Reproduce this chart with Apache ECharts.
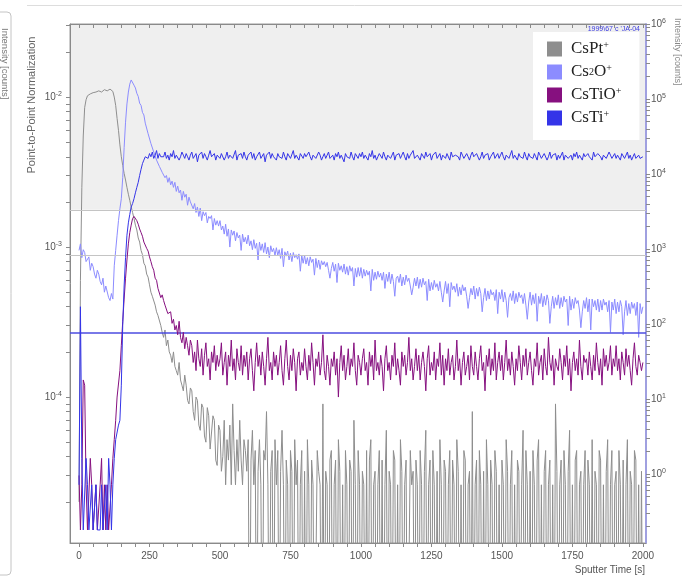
<!DOCTYPE html>
<html>
<head>
<meta charset="utf-8">
<script src="https://cdn.jsdelivr.net/npm/echarts@6/dist/echarts.min.js"></script>
<style>
  html, body { margin: 0; padding: 0; background: #fff; }
  #chart { width: 682px; height: 579px; }
</style>
</head>
<body>
<div id="chart"></div>
<script>
// Depth profile: sputter time [s] vs point-to-point normalised signal (log scale).
// One sample every 5 s from 0 s to 2000 s (401 samples per species, 20 per row).
const TIME_STEP = 5;
const sputterTime = [];
for (let t = 0; t <= 2000; t += TIME_STEP) sputterTime.push(t);

// 1e-6 marks a sample with no counts: it lies below the axis and is clipped.
const csPt = [
  2.0e-5, 6.0e-4, 2.5e-3, 5.5e-3, 8.5e-3, 9.6e-3, 1.02e-2, 1.04e-2, 1.05e-2, 1.03e-2, 1.07e-2, 1.06e-2, 1.08e-2, 1.09e-2, 1.1e-2, 1.07e-2, 1.08e-2, 1.11e-2, 1.12e-2, 1.09e-2,
  1.1e-2, 1.12e-2, 1.13e-2, 1.1e-2, 1.09e-2, 1.0e-2, 8.8e-3, 7.2e-3, 6.0e-3, 4.8e-3, 4.0e-3, 3.5e-3, 3.1e-3, 2.8e-3, 2.5e-3, 2.25e-3, 2.05e-3, 1.85e-3, 1.7e-3, 1.55e-3,
  1.4e-3, 1.3e-3, 1.15e-3, 1.08e-3, 9.5e-4, 8.9e-4, 7.8e-4, 7.5e-4, 6.6e-4, 6.3e-4, 5.6e-4, 5.0e-4, 4.7e-4, 4.8e-4, 4.1e-4, 3.7e-4, 3.5e-4, 3.6e-4, 3.0e-4, 2.7e-4,
  2.5e-4, 2.8e-4, 2.2e-4, 2.4e-4, 2.0e-4, 1.9e-4, 1.7e-4, 2.0e-4, 1.6e-4, 1.5e-4, 1.4e-4, 1.7e-4, 1.3e-4, 1.2e-4, 1.1e-4, 1.4e-4, 1.2e-4, 9.5e-5, 9.0e-5, 1.15e-4,
  1.1e-4, 8.0e-5, 7.0e-5, 1.0e-4, 9.5e-5, 6.5e-5, 6.0e-5, 9.0e-5, 8.5e-5, 5.5e-5, 5.0e-5, 8.5e-5, 7.5e-5, 4.5e-5, 4.4e-5, 7.5e-5, 7.0e-5, 3.8e-5, 3.5e-5, 6.5e-5,
  6.0e-5, 3.2e-5, 4.0e-5, 7.0e-5, 2.6e-5, 5.2e-5, 3.8e-5, 6.5e-5, 2.6e-5, 9.0e-5, 4.4e-5, 2.6e-5, 5.2e-5, 3.2e-5, 7.0e-5, 3.8e-5, 2.6e-5, 5.2e-5, 4.4e-5, 3.2e-5,
  5.2e-5, 1e-6, 3.8e-5, 6.0e-5, 2.6e-5, 4.4e-5, 1e-6, 3.2e-5, 5.2e-5, 2.6e-5, 1e-6, 4.4e-5, 3.8e-5, 8.0e-5, 2.6e-5, 1e-6, 3.2e-5, 4.4e-5, 1e-6, 5.2e-5,
  2.6e-5, 4.4e-5, 1e-6, 3.2e-5, 6.0e-5, 2.6e-5, 1e-6, 3.8e-5, 2.6e-5, 1e-6, 4.4e-5, 3.2e-5, 1e-6, 5.2e-5, 2.6e-5, 3.8e-5, 1e-6, 2.6e-5, 4.4e-5, 1e-6,
  3.2e-5, 1e-6, 5.2e-5, 2.6e-5, 1e-6, 3.8e-5, 2.6e-5, 1e-6, 1e-6, 4.4e-5, 3.2e-5, 2.6e-5, 1e-6, 9.0e-5, 1e-6, 3.2e-5, 2.6e-5, 1e-6, 3.8e-5, 4.4e-5,
  1e-6, 2.6e-5, 3.8e-5, 1e-6, 5.2e-5, 3.2e-5, 1e-6, 2.6e-5, 1e-6, 4.4e-5, 2.6e-5, 1e-6, 3.8e-5, 3.2e-5, 1e-6, 7.0e-5, 2.6e-5, 1e-6, 4.4e-5, 2.6e-5,
  1e-6, 3.2e-5, 2.6e-5, 1e-6, 4.4e-5, 1e-6, 3.8e-5, 5.2e-5, 1e-6, 2.6e-5, 3.2e-5, 1e-6, 2.6e-5, 4.4e-5, 1e-6, 3.8e-5, 1e-6, 2.6e-5, 6.0e-5, 1e-6,
  3.2e-5, 2.6e-5, 1e-6, 4.4e-5, 3.8e-5, 1e-6, 2.6e-5, 1e-6, 5.2e-5, 3.2e-5, 1e-6, 2.6e-5, 3.8e-5, 1e-6, 1e-6, 4.4e-5, 2.6e-5, 3.2e-5, 1e-6, 3.8e-5,
  2.6e-5, 1e-6, 4.4e-5, 2.6e-5, 1e-6, 3.2e-5, 6.0e-5, 1e-6, 2.6e-5, 3.8e-5, 1e-6, 4.4e-5, 2.6e-5, 1e-6, 3.2e-5, 1e-6, 5.2e-5, 2.6e-5, 1e-6, 3.8e-5,
  3.2e-5, 1e-6, 2.6e-5, 4.4e-5, 1e-6, 3.8e-5, 2.6e-5, 1e-6, 5.2e-5, 3.2e-5, 1e-6, 2.6e-5, 1e-6, 4.4e-5, 3.8e-5, 1e-6, 2.6e-5, 3.2e-5, 1e-6, 8.0e-5,
  1e-6, 2.6e-5, 3.8e-5, 1e-6, 4.4e-5, 2.6e-5, 1e-6, 3.2e-5, 1e-6, 5.2e-5, 2.6e-5, 1e-6, 3.8e-5, 2.6e-5, 1e-6, 4.4e-5, 3.2e-5, 1e-6, 2.6e-5, 1e-6,
  3.8e-5, 2.6e-5, 1e-6, 5.2e-5, 3.2e-5, 1e-6, 2.6e-5, 4.4e-5, 1e-6, 2.6e-5, 1e-6, 3.8e-5, 3.2e-5, 1e-6, 2.6e-5, 6.0e-5, 1e-6, 4.4e-5, 2.6e-5, 1e-6,
  3.2e-5, 1e-6, 4.4e-5, 2.6e-5, 1e-6, 3.8e-5, 5.2e-5, 1e-6, 2.6e-5, 1e-6, 3.2e-5, 4.4e-5, 1e-6, 2.6e-5, 3.8e-5, 1e-6, 2.6e-5, 1e-6, 9.0e-5, 3.2e-5,
  1e-6, 2.6e-5, 3.8e-5, 1e-6, 4.4e-5, 2.6e-5, 1e-6, 3.2e-5, 6.0e-5, 1e-6, 2.6e-5, 1e-6, 3.8e-5, 4.4e-5, 1e-6, 2.6e-5, 3.2e-5, 1e-6, 2.6e-5, 4.4e-5,
  1e-6, 3.8e-5, 2.6e-5, 1e-6, 5.2e-5, 1e-6, 3.2e-5, 2.6e-5, 1e-6, 4.4e-5, 3.8e-5, 1e-6, 2.6e-5, 1e-6, 3.2e-5, 5.2e-5, 1e-6, 2.6e-5, 4.4e-5, 1e-6,
  2.6e-5, 3.2e-5, 1e-6, 4.4e-5, 2.6e-5, 1e-6, 3.8e-5, 1e-6, 2.6e-5, 5.2e-5, 1e-6, 3.2e-5, 2.6e-5, 1e-6, 4.4e-5, 3.8e-5, 1e-6, 2.6e-5, 1e-6, 3.2e-5,
  1e-6
];

const cs2O = [
  9.5e-4, 1.05e-3, 8.5e-4, 9.6e-4, 9.2e-4, 8.0e-4, 7.8e-4, 8.6e-4, 7.0e-4, 7.8e-4, 7.4e-4, 6.6e-4, 6.2e-4, 7.0e-4, 6.6e-4, 5.9e-4, 5.6e-4, 6.2e-4, 5.0e-4, 5.5e-4,
  5.4e-4, 4.6e-4, 4.4e-4, 4.9e-4, 4.5e-4, 7.5e-4, 9.5e-4, 1.2e-3, 1.5e-3, 1.8e-3, 2.1e-3, 2.9e-3, 4.6e-3, 6.8e-3, 9.0e-3, 1.08e-2, 1.22e-2, 1.3e-2, 1.27e-2, 1.2e-2,
  1.15e-2, 1.06e-2, 1.01e-2, 9.1e-3, 8.8e-3, 7.9e-3, 7.6e-3, 6.7e-3, 6.5e-3, 5.7e-3, 5.6e-3, 4.9e-3, 4.9e-3, 4.3e-3, 4.3e-3, 3.8e-3, 3.9e-3, 3.45e-3, 3.5e-3, 3.15e-3,
  3.2e-3, 2.9e-3, 3.0e-3, 2.7e-3, 2.9e-3, 2.6e-3, 2.75e-3, 2.5e-3, 2.7e-3, 2.35e-3, 2.55e-3, 2.3e-3, 2.4e-3, 2.05e-3, 2.35e-3, 2.15e-3, 2.25e-3, 1.9e-3, 2.15e-3, 2.0e-3,
  2.05e-3, 1.8e-3, 1.95e-3, 1.7e-3, 1.85e-3, 1.6e-3, 1.82e-3, 1.5e-3, 1.72e-3, 1.62e-3, 1.7e-3, 1.45e-3, 1.6e-3, 1.55e-3, 1.62e-3, 1.3e-3, 1.55e-3, 1.4e-3, 1.5e-3, 1.38e-3,
  1.5e-3, 1.3e-3, 1.38e-3, 1.22e-3, 1.42e-3, 1.18e-3, 1.32e-3, 1.0e-3, 1.3e-3, 1.2e-3, 1.28e-3, 1.1e-3, 1.25e-3, 1.15e-3, 1.2e-3, 9.5e-4, 1.22e-3, 1.08e-3, 1.16e-3, 1.05e-3,
  1.2e-3, 1.02e-3, 1.1e-3, 9.6e-4, 1.12e-3, 9.8e-4, 1.06e-3, 8.2e-4, 1.08e-3, 9.5e-4, 1.05e-3, 9.2e-4, 1.07e-3, 9.0e-4, 1.0e-3, 8.5e-4, 1.02e-3, 9.3e-4, 9.8e-4, 8.8e-4,
  9.9e-4, 8.8e-4, 9.6e-4, 8.4e-4, 9.8e-4, 7.4e-4, 9.3e-4, 8.7e-4, 9.4e-4, 8.2e-4, 9.1e-4, 8.0e-4, 9.2e-4, 8.5e-4, 8.9e-4, 8.3e-4, 9.0e-4, 6.9e-4, 8.8e-4, 7.8e-4,
  8.8e-4, 7.7e-4, 8.5e-4, 7.5e-4, 8.6e-4, 7.9e-4, 8.3e-4, 6.5e-4, 8.4e-4, 7.3e-4, 8.2e-4, 7.1e-4, 8.1e-4, 7.6e-4, 8.0e-4, 7.4e-4, 7.9e-4, 7.0e-4, 6.2e-4, 7.2e-4,
  7.9e-4, 6.9e-4, 7.7e-4, 5.8e-4, 7.8e-4, 7.0e-4, 7.5e-4, 6.8e-4, 7.7e-4, 6.6e-4, 7.4e-4, 6.5e-4, 7.5e-4, 6.9e-4, 7.3e-4, 5.5e-4, 7.2e-4, 6.3e-4, 7.3e-4, 6.4e-4,
  7.3e-4, 6.2e-4, 7.1e-4, 6.4e-4, 7.0e-4, 6.5e-4, 6.9e-4, 5.1e-4, 7.1e-4, 6.0e-4, 6.8e-4, 6.1e-4, 6.9e-4, 6.3e-4, 6.7e-4, 6.0e-4, 6.8e-4, 5.3e-4, 6.6e-4, 5.9e-4,
  6.8e-4, 5.7e-4, 6.6e-4, 5.9e-4, 4.7e-4, 6.2e-4, 6.4e-4, 5.8e-4, 6.6e-4, 5.5e-4, 6.3e-4, 5.6e-4, 6.5e-4, 5.9e-4, 6.2e-4, 5.5e-4, 4.8e-4, 5.4e-4, 6.2e-4, 5.5e-4,
  6.3e-4, 5.3e-4, 6.1e-4, 5.4e-4, 6.2e-4, 5.6e-4, 5.9e-4, 4.4e-4, 6.1e-4, 5.1e-4, 5.8e-4, 5.2e-4, 6.0e-4, 5.4e-4, 5.7e-4, 5.1e-4, 5.9e-4, 5.0e-4, 4.3e-4, 5.1e-4,
  5.9e-4, 4.9e-4, 5.7e-4, 4.0e-4, 5.8e-4, 5.2e-4, 5.5e-4, 5.0e-4, 5.7e-4, 4.7e-4, 5.4e-4, 4.8e-4, 5.6e-4, 5.1e-4, 5.4e-4, 4.7e-4, 3.9e-4, 4.6e-4, 5.3e-4, 4.8e-4,
  5.5e-4, 4.5e-4, 5.3e-4, 4.7e-4, 5.4e-4, 4.9e-4, 3.7e-4, 4.6e-4, 5.3e-4, 4.4e-4, 5.1e-4, 4.5e-4, 5.2e-4, 4.8e-4, 5.0e-4, 4.4e-4, 5.2e-4, 3.6e-4, 5.0e-4, 4.5e-4,
  5.2e-4, 4.3e-4, 5.0e-4, 4.4e-4, 3.4e-4, 4.6e-4, 4.9e-4, 4.4e-4, 5.1e-4, 4.2e-4, 4.9e-4, 4.3e-4, 5.0e-4, 4.6e-4, 4.8e-4, 4.2e-4, 4.9e-4, 4.1e-4, 3.3e-4, 4.3e-4,
  5.0e-4, 4.1e-4, 4.8e-4, 4.2e-4, 4.9e-4, 3.2e-4, 4.7e-4, 4.2e-4, 4.9e-4, 4.0e-4, 4.7e-4, 4.1e-4, 4.8e-4, 4.4e-4, 3.1e-4, 4.0e-4, 4.7e-4, 3.9e-4, 4.6e-4, 4.1e-4,
  4.8e-4, 3.9e-4, 4.6e-4, 4.0e-4, 4.7e-4, 4.3e-4, 4.5e-4, 3.0e-4, 4.7e-4, 3.8e-4, 4.5e-4, 3.9e-4, 4.6e-4, 4.2e-4, 4.4e-4, 3.8e-4, 2.9e-4, 3.7e-4, 4.4e-4, 3.9e-4,
  4.6e-4, 3.7e-4, 4.5e-4, 2.8e-4, 4.5e-4, 4.0e-4, 4.4e-4, 3.8e-4, 4.5e-4, 3.7e-4, 4.4e-4, 3.8e-4, 4.5e-4, 4.1e-4, 4.3e-4, 3.7e-4, 4.4e-4, 2.7e-4, 4.3e-4, 3.8e-4,
  4.5e-4, 3.6e-4, 4.3e-4, 3.7e-4, 4.4e-4, 4.0e-4, 2.6e-4, 3.7e-4, 4.4e-4, 3.5e-4, 4.2e-4, 3.6e-4, 4.3e-4, 3.9e-4, 4.2e-4, 3.5e-4, 4.3e-4, 2.5e-4, 4.2e-4, 3.6e-4,
  4.0e-4
];

const csTiO = [
  3.0e-5, 1.3e-5, 2.6e-5, 1.3e-4, 1.2e-4, 2.6e-5, 1.3e-5, 1.3e-5, 3.9e-5, 2.6e-5, 1.3e-5, 1.3e-5, 2.6e-5, 1.3e-5, 1.3e-5, 2.6e-5, 3.9e-5, 1.3e-5, 2.6e-5, 1.3e-5,
  2.6e-5, 1.3e-5, 1.3e-5, 2.6e-5, 3.9e-5, 5.2e-5, 7.0e-5, 1.0e-4, 1.0e-4, 1.5e-4, 2.2e-4, 3.2e-4, 4.5e-4, 6.2e-4, 8.2e-4, 1.05e-3, 1.25e-3, 1.4e-3, 1.55e-3, 1.6e-3,
  1.58e-3, 1.5e-3, 1.42e-3, 1.32e-3, 1.25e-3, 1.18e-3, 1.08e-3, 1.06e-3, 9.8e-4, 9.4e-4, 8.6e-4, 8.0e-4, 7.4e-4, 7.0e-4, 6.2e-4, 6.0e-4, 5.3e-4, 5.2e-4, 4.6e-4, 4.8e-4,
  4.4e-4, 4.1e-4, 4.0e-4, 3.6e-4, 3.5e-4, 3.7e-4, 3.1e-4, 3.3e-4, 2.8e-4, 3.0e-4, 2.6e-4, 3.2e-4, 2.5e-4, 2.3e-4, 2.7e-4, 2.1e-4, 2.5e-4, 2.2e-4, 1.9e-4, 2.4e-4,
  2.2e-4, 1.7e-4, 2.0e-4, 1.5e-4, 2.4e-4, 1.8e-4, 1.6e-4, 2.1e-4, 1.4e-4, 1.9e-4, 2.3e-4, 1.6e-4, 1.8e-4, 1.3e-4, 2.0e-4, 1.7e-4, 2.2e-4, 1.5e-4, 1.9e-4, 1.6e-4,
  1.8e-4, 2.3e-4, 1.4e-4, 1.7e-4, 2.0e-4, 1.2e-4, 1.9e-4, 1.6e-4, 2.4e-4, 1.5e-4, 1.8e-4, 1.3e-4, 2.1e-4, 1.7e-4, 1.5e-4, 2.2e-4, 1.4e-4, 1.9e-4, 1.6e-4, 2.0e-4,
  1.3e-4, 1.8e-4, 2.1e-4, 1.5e-4, 1.1e-4, 1.7e-4, 2.3e-4, 1.6e-4, 1.9e-4, 1.4e-4, 2.0e-4, 1.6e-4, 1.2e-4, 1.8e-4, 2.5e-4, 1.5e-4, 1.7e-4, 1.3e-4, 2.0e-4, 1.6e-4,
  1.9e-4, 1.4e-4, 1.7e-4, 2.2e-4, 1.5e-4, 1.2e-4, 1.8e-4, 2.4e-4, 1.6e-4, 1.3e-4, 1.9e-4, 1.5e-4, 2.1e-4, 1.7e-4, 1.1e-4, 1.8e-4, 2.0e-4, 1.4e-4, 1.7e-4, 1.5e-4,
  2.1e-4, 1.6e-4, 1.3e-4, 1.9e-4, 1.5e-4, 2.3e-4, 1.7e-4, 1.2e-4, 1.8e-4, 1.6e-4, 2.0e-4, 1.4e-4, 1.7e-4, 2.6e-4, 1.5e-4, 1.3e-4, 1.9e-4, 1.6e-4, 1.2e-4, 1.8e-4,
  1.6e-4, 2.0e-4, 1.4e-4, 1.8e-4, 1.0e-4, 1.7e-4, 2.2e-4, 1.5e-4, 1.9e-4, 1.3e-4, 1.6e-4, 2.1e-4, 1.4e-4, 1.8e-4, 1.6e-4, 2.3e-4, 1.5e-4, 1.2e-4, 1.9e-4, 1.7e-4,
  1.4e-4, 1.8e-4, 2.1e-4, 1.5e-4, 1.7e-4, 1.2e-4, 2.0e-4, 1.6e-4, 1.9e-4, 1.3e-4, 2.4e-4, 1.5e-4, 1.7e-4, 1.4e-4, 1.9e-4, 1.6e-4, 1.1e-4, 1.8e-4, 2.2e-4, 1.5e-4,
  1.7e-4, 1.3e-4, 1.9e-4, 1.6e-4, 2.3e-4, 1.4e-4, 1.8e-4, 1.5e-4, 1.2e-4, 2.0e-4, 1.6e-4, 1.9e-4, 1.4e-4, 1.7e-4, 2.5e-4, 1.5e-4, 1.8e-4, 1.3e-4, 1.6e-4, 2.1e-4,
  1.5e-4, 1.9e-4, 1.3e-4, 1.7e-4, 2.0e-4, 1.6e-4, 1.1e-4, 1.8e-4, 2.2e-4, 1.4e-4, 1.7e-4, 1.5e-4, 2.0e-4, 1.3e-4, 1.8e-4, 1.6e-4, 2.3e-4, 1.4e-4, 1.9e-4, 1.2e-4,
  1.8e-4, 1.5e-4, 2.1e-4, 1.4e-4, 1.7e-4, 1.9e-4, 1.3e-4, 1.6e-4, 2.4e-4, 1.5e-4, 1.8e-4, 1.2e-4, 1.7e-4, 2.0e-4, 1.4e-4, 1.6e-4, 1.9e-4, 1.3e-4, 2.2e-4, 1.6e-4,
  1.4e-4, 2.0e-4, 1.6e-4, 1.3e-4, 1.8e-4, 2.2e-4, 1.5e-4, 1.7e-4, 1.1e-4, 1.9e-4, 1.6e-4, 2.1e-4, 1.4e-4, 1.8e-4, 1.5e-4, 2.3e-4, 1.3e-4, 1.7e-4, 2.0e-4, 1.5e-4,
  1.9e-4, 1.3e-4, 1.7e-4, 2.4e-4, 1.5e-4, 1.8e-4, 1.4e-4, 2.0e-4, 1.6e-4, 1.2e-4, 1.8e-4, 1.5e-4, 2.2e-4, 1.7e-4, 1.3e-4, 1.9e-4, 1.6e-4, 2.1e-4, 1.4e-4, 1.7e-4,
  2.0e-4, 1.5e-4, 1.2e-4, 1.8e-4, 1.6e-4, 2.3e-4, 1.4e-4, 1.7e-4, 1.9e-4, 1.3e-4, 2.1e-4, 1.6e-4, 1.4e-4, 2.5e-4, 1.7e-4, 1.5e-4, 1.9e-4, 1.2e-4, 1.8e-4, 1.6e-4,
  1.5e-4, 2.1e-4, 1.7e-4, 1.3e-4, 1.9e-4, 1.6e-4, 2.2e-4, 1.4e-4, 1.8e-4, 1.1e-4, 1.7e-4, 2.0e-4, 1.5e-4, 1.8e-4, 1.4e-4, 2.4e-4, 1.6e-4, 1.3e-4, 1.9e-4, 1.7e-4,
  1.8e-4, 1.4e-4, 2.0e-4, 1.6e-4, 1.3e-4, 1.9e-4, 1.5e-4, 2.3e-4, 1.7e-4, 1.4e-4, 1.8e-4, 1.2e-4, 2.1e-4, 1.6e-4, 1.9e-4, 1.5e-4, 1.7e-4, 2.2e-4, 1.4e-4, 1.8e-4,
  1.6e-4, 2.2e-4, 1.5e-4, 1.8e-4, 1.3e-4, 2.0e-4, 1.7e-4, 1.4e-4, 2.1e-4, 1.6e-4, 1.9e-4, 1.5e-4, 1.2e-4, 1.8e-4, 2.3e-4, 1.6e-4, 1.4e-4, 1.9e-4, 1.7e-4, 1.5e-4,
  1.7e-4
];

const csTi = [
  2.6e-5, 4.0e-4, 3.9e-5, 1.3e-5, 1.3e-5, 3.9e-5, 2.6e-5, 1.3e-5, 1.3e-5, 2.6e-5, 1.3e-5, 1.3e-5, 2.6e-5, 1.3e-5, 1.3e-5, 1.3e-5, 2.6e-5, 1.3e-5, 1.3e-5, 2.6e-5,
  1.3e-5, 3.9e-5, 2.6e-5, 1.3e-5, 2.6e-5, 3.9e-5, 5.2e-5, 5.2e-5, 6.5e-5, 7.0e-5, 1.2e-4, 3.0e-4, 5.5e-4, 8.5e-4, 1.2e-3, 1.45e-3, 1.65e-3, 1.85e-3, 1.95e-3, 2.1e-3,
  2.3e-3, 2.5e-3, 2.7e-3, 3.0e-3, 3.3e-3, 3.6e-3, 3.8e-3, 4.0e-3, 4.1e-3, 3.9e-3, 4.2e-3, 4.0e-3, 4.3e-3, 3.9e-3, 4.1e-3, 4.4e-3, 3.9e-3, 4.2e-3, 4.0e-3, 4.1e-3,
  4.0e-3, 4.3e-3, 3.9e-3, 4.1e-3, 3.8e-3, 4.2e-3, 4.0e-3, 4.4e-3, 3.9e-3, 4.1e-3, 4.2e-3, 3.8e-3, 4.0e-3, 4.3e-3, 4.1e-3, 3.9e-3, 4.2e-3, 4.0e-3, 3.8e-3, 4.1e-3,
  4.3e-3, 3.9e-3, 4.0e-3, 4.2e-3, 3.7e-3, 4.1e-3, 4.0e-3, 4.3e-3, 3.9e-3, 4.2e-3, 4.0e-3, 3.8e-3, 4.1e-3, 4.4e-3, 4.0e-3, 3.9e-3, 4.2e-3, 3.8e-3, 4.1e-3, 4.0e-3,
  3.9e-3, 4.2e-3, 4.1e-3, 3.8e-3, 4.0e-3, 4.3e-3, 3.9e-3, 4.1e-3, 4.2e-3, 3.9e-3, 4.0e-3, 4.4e-3, 3.8e-3, 4.1e-3, 4.0e-3, 4.2e-3, 3.9e-3, 4.3e-3, 4.0e-3, 3.8e-3,
  4.1e-3, 4.0e-3, 4.3e-3, 3.9e-3, 4.2e-3, 3.8e-3, 4.0e-3, 4.1e-3, 4.3e-3, 3.9e-3, 4.0e-3, 4.2e-3, 3.7e-3, 4.1e-3, 4.0e-3, 4.3e-3, 3.9e-3, 4.2e-3, 4.0e-3, 4.1e-3,
  3.8e-3, 4.2e-3, 4.0e-3, 4.1e-3, 3.9e-3, 4.3e-3, 4.0e-3, 3.8e-3, 4.2e-3, 4.1e-3, 3.9e-3, 4.0e-3, 4.4e-3, 3.9e-3, 4.1e-3, 4.0e-3, 3.8e-3, 4.2e-3, 4.1e-3, 3.9e-3,
  4.2e-3, 4.0e-3, 3.9e-3, 4.3e-3, 4.0e-3, 3.8e-3, 4.1e-3, 4.2e-3, 3.9e-3, 4.0e-3, 4.3e-3, 4.1e-3, 3.8e-3, 4.0e-3, 4.2e-3, 3.9e-3, 4.1e-3, 4.3e-3, 3.9e-3, 4.0e-3,
  4.1e-3, 3.8e-3, 4.2e-3, 4.0e-3, 4.3e-3, 3.9e-3, 4.1e-3, 4.0e-3, 3.7e-3, 4.2e-3, 4.0e-3, 4.1e-3, 3.9e-3, 4.3e-3, 4.0e-3, 3.8e-3, 4.2e-3, 4.1e-3, 3.9e-3, 4.2e-3,
  4.0e-3, 4.3e-3, 3.9e-3, 4.1e-3, 4.0e-3, 3.8e-3, 4.2e-3, 4.0e-3, 4.4e-3, 3.9e-3, 4.1e-3, 3.8e-3, 4.0e-3, 4.2e-3, 4.1e-3, 3.9e-3, 4.3e-3, 4.0e-3, 3.8e-3, 4.1e-3,
  4.2e-3, 3.9e-3, 4.0e-3, 4.3e-3, 3.8e-3, 4.1e-3, 4.0e-3, 4.2e-3, 3.9e-3, 4.1e-3, 4.3e-3, 4.0e-3, 3.8e-3, 4.2e-3, 3.9e-3, 4.1e-3, 4.0e-3, 4.4e-3, 3.9e-3, 4.0e-3,
  4.1e-3, 4.0e-3, 3.8e-3, 4.2e-3, 4.1e-3, 3.9e-3, 4.3e-3, 4.0e-3, 3.9e-3, 4.2e-3, 3.8e-3, 4.1e-3, 4.0e-3, 4.3e-3, 3.9e-3, 4.0e-3, 4.2e-3, 3.8e-3, 4.1e-3, 4.0e-3,
  3.9e-3, 4.2e-3, 4.1e-3, 3.8e-3, 4.3e-3, 4.0e-3, 3.9e-3, 4.1e-3, 4.2e-3, 4.0e-3, 3.8e-3, 4.3e-3, 4.1e-3, 3.9e-3, 4.0e-3, 4.2e-3, 4.0e-3, 3.8e-3, 4.1e-3, 4.3e-3,
  4.0e-3, 3.9e-3, 4.2e-3, 4.1e-3, 3.8e-3, 4.0e-3, 4.3e-3, 3.9e-3, 4.1e-3, 4.0e-3, 4.2e-3, 3.8e-3, 4.0e-3, 4.1e-3, 4.3e-3, 3.9e-3, 4.0e-3, 4.2e-3, 3.9e-3, 4.1e-3,
  4.3e-3, 4.0e-3, 3.8e-3, 4.1e-3, 4.2e-3, 3.9e-3, 4.0e-3, 4.4e-3, 3.9e-3, 4.1e-3, 4.0e-3, 3.8e-3, 4.2e-3, 4.0e-3, 4.1e-3, 3.9e-3, 4.3e-3, 4.0e-3, 3.8e-3, 4.2e-3,
  4.0e-3, 4.1e-3, 3.9e-3, 4.2e-3, 4.0e-3, 3.8e-3, 4.3e-3, 4.1e-3, 3.9e-3, 4.0e-3, 4.2e-3, 4.1e-3, 3.8e-3, 4.0e-3, 4.3e-3, 3.9e-3, 4.1e-3, 4.0e-3, 4.2e-3, 3.8e-3,
  4.1e-3, 3.9e-3, 4.0e-3, 4.3e-3, 3.8e-3, 4.1e-3, 4.2e-3, 3.9e-3, 4.0e-3, 4.1e-3, 3.8e-3, 4.2e-3, 4.0e-3, 4.3e-3, 3.9e-3, 4.1e-3, 4.0e-3, 3.8e-3, 4.2e-3, 4.0e-3,
  3.9e-3, 4.2e-3, 4.0e-3, 4.1e-3, 3.8e-3, 4.3e-3, 4.0e-3, 3.9e-3, 4.2e-3, 4.1e-3, 4.0e-3, 3.8e-3, 4.1e-3, 4.2e-3, 3.9e-3, 4.0e-3, 4.3e-3, 4.1e-3, 3.9e-3, 4.0e-3,
  4.2e-3, 3.9e-3, 4.1e-3, 4.0e-3, 3.8e-3, 4.2e-3, 4.1e-3, 3.9e-3, 4.0e-3, 4.3e-3, 3.9e-3, 4.1e-3, 3.8e-3, 4.0e-3, 4.2e-3, 3.9e-3, 3.8e-3, 4.1e-3, 3.9e-3, 4.0e-3,
  4.0e-3
];

// Axis labels
const timeLabels = [0, 250, 500, 750, 1000, 1250, 1500, 1750, 2000];
const normLabels = [1e-4, 1e-3, 1e-2];
const countLabels = [1, 10, 100, 1000, 10000, 100000, 1000000];

// Reference levels drawn across the plot
const shadedFrom = 1.77e-3;
const greyLevels = [1.77e-3, 8.85e-4];
const blueLevel = 2.67e-4;

const seriesNames = ['CsPt+', 'Cs2O+', 'CsTiO+', 'CsTi+'];
const seriesColors = ['#8e8e8e', '#8c8cff', '#86107f', '#3434e8'];
const seriesValues = [csPt, cs2O, csTiO, csTi];

// Axis ranges
const T_MIN = -32, T_MAX = 2011;
const NORM_MIN = 1.064e-5, NORM_MAX = 0.0307;
const COUNT_MIN = 0.12, COUNT_MAX = 1e6;

function logTicks(lo, hi) {
  const out = [];
  for (let e = Math.floor(Math.log10(lo)); e <= Math.ceil(Math.log10(hi)); e++) {
    for (let m = 1; m <= 9; m++) {
      const v = m * Math.pow(10, e);
      if (v >= lo && v <= hi) out.push(v);
    }
  }
  return out;
}
const timeTicks = [];
for (let t = 0; t <= 2000; t += 50) timeTicks.push(t);

const powLabel = v => '10{sup|' + Math.round(Math.log10(v)) + '}';
const richSup = {
  sup: { fontSize: 7, padding: [0, 0, 6, 0], color: '#555', fontFamily: 'Liberation Sans' }
};
const legendText = {
  'CsPt+': 'CsPt{sup|+}',
  'Cs2O+': 'Cs{sub|2}O{sup|+}',
  'CsTiO+': 'CsTiO{sup|+}',
  'CsTi+': 'CsTi{sup|+}'
};

const chart = echarts.init(document.getElementById('chart'), null, { renderer: 'canvas' });

const lineSeries = seriesNames.map((name, k) => ({
  name: name,
  type: 'line',
  xAxisIndex: 0,
  yAxisIndex: 0,
  showSymbol: false,
  symbol: 'none',
  clip: true,
  animation: false,
  z: 3 + k,
  color: seriesColors[k],
  lineStyle: { width: 1, color: seriesColors[k] },
  data: sputterTime.map((t, i) => [t, seriesValues[k][i]])
}));

// Shaded band and horizontal reference lines, attached to the first profile
lineSeries[0].markArea = {
  silent: true,
  z: 0,
  itemStyle: { color: '#efefef' },
  data: [[{ yAxis: shadedFrom }, { yAxis: NORM_MAX }]]
};
lineSeries[0].markLine = {
  silent: true,
  symbol: 'none',
  precision: 10,
  animation: false,
  label: { show: false },
  data: greyLevels.map(v => ({ yAxis: v, lineStyle: { color: '#c4c4c4', width: 1, type: 'solid' } }))
    .concat([{ yAxis: blueLevel, lineStyle: { color: '#4c4ce0', width: 1.5, type: 'solid' } }])
};

chart.setOption({
  animation: false,
  backgroundColor: '#fff',
  grid: {
    left: 70, right: 36, top: 24, bottom: 36,
    show: true, backgroundColor: '#fff', borderColor: '#9a9a9a', borderWidth: 1
  },
  legend: {
    data: seriesNames,
    orient: 'vertical',
    left: 533, top: 32,
    icon: 'rect',
    itemWidth: 15, itemHeight: 15, itemGap: 5,
    padding: [8, 18, 13, 14],
    backgroundColor: '#fff',
    selectedMode: false,
    formatter: n => legendText[n],
    textStyle: {
      fontFamily: 'Liberation Serif', fontSize: 17, lineHeight: 15, color: '#222',
      padding: [0, 0, 0, 4],
      rich: {
        sup: { fontFamily: 'Liberation Serif', fontSize: 10, lineHeight: 15, padding: [0, 0, 8, 0], color: '#222' },
        sub: { fontFamily: 'Liberation Serif', fontSize: 10, lineHeight: 15, padding: [0, 0, 0, 0], color: '#222' }
      }
    }
  },
  xAxis: [
    {
      type: 'value', position: 'bottom', min: T_MIN, max: T_MAX,
      axisLine: { show: true, onZero: false, lineStyle: { color: '#8a8a8a' } },
      axisTick: { show: true, inside: false, length: 4, customValues: timeTicks, lineStyle: { color: '#8a8a8a' } },
      axisLabel: {
        customValues: timeLabels, formatter: v => String(v),
        color: '#555', fontSize: 10, fontFamily: 'Liberation Sans', margin: 8
      },
      splitLine: { show: false }
    },
    {
      type: 'value', position: 'top', min: T_MIN, max: T_MAX,
      axisLine: { show: true, onZero: false, lineStyle: { color: '#8a8a8a' } },
      axisTick: { show: true, inside: true, length: 4, customValues: timeTicks, lineStyle: { color: '#8a8a8a' } },
      axisLabel: { show: false },
      splitLine: { show: false }
    }
  ],
  yAxis: [
    {
      type: 'log', logBase: 10, position: 'left', min: NORM_MIN, max: NORM_MAX,
      axisLine: { show: true, onZero: false, lineStyle: { color: '#8a8a8a' } },
      axisTick: { show: true, length: 4, customValues: logTicks(NORM_MIN, NORM_MAX), lineStyle: { color: '#8a8a8a' } },
      axisLabel: {
        customValues: normLabels, formatter: powLabel, color: '#555', fontSize: 10,
        fontFamily: 'Liberation Sans', margin: 8, rich: richSup
      },
      splitLine: { show: false }
    },
    {
      type: 'log', logBase: 10, position: 'right', min: COUNT_MIN, max: COUNT_MAX,
      axisLine: { show: true, onZero: false, lineStyle: { color: '#a0a0e0', width: 2 } },
      axisTick: { show: true, length: 4, customValues: logTicks(COUNT_MIN, COUNT_MAX), lineStyle: { color: '#8a8a8a' } },
      axisLabel: {
        customValues: countLabels, formatter: powLabel, color: '#555', fontSize: 10,
        fontFamily: 'Liberation Sans', margin: 5, rich: richSup
      },
      splitLine: { show: false }
    }
  ],
  graphic: [
    { type: 'line', shape: { x1: 27, y1: 5.5, x2: 682, y2: 5.5 }, style: { stroke: '#dddddd', lineWidth: 1 }, silent: true },
    { type: 'rect', shape: { x: -20, y: 12, width: 31, height: 563, r: 4 }, style: { fill: 'none', stroke: '#c4c4c4', lineWidth: 1 }, silent: true },
    { type: 'text', x: 5, y: 28, rotation: -Math.PI / 2,
      style: { text: 'Intensity [counts]', fontSize: 9.5, fill: '#777', fontFamily: 'Liberation Sans', align: 'left', verticalAlign: 'middle' }, silent: true },
    { type: 'text', x: 32, y: 105, rotation: Math.PI / 2,
      style: { text: 'Point-to-Point Normalization', fontSize: 11, fill: '#666', fontFamily: 'Liberation Sans', align: 'center', verticalAlign: 'middle' }, silent: true },
    { type: 'text', x: 677, y: 18, rotation: -Math.PI / 2,
      style: { text: 'Intensity [counts]', fontSize: 9, fill: '#888', fontFamily: 'Liberation Sans', align: 'left', verticalAlign: 'middle' }, silent: true },
    { type: 'text', x: 645, y: 570,
      style: { text: 'Sputter Time [s]', fontSize: 10, fill: '#555', fontFamily: 'Liberation Sans', align: 'right', verticalAlign: 'middle' }, silent: true },
    { type: 'text', x: 640, y: 29, z: 10,
      style: { text: "1999\\67 c 'JA-04", fontSize: 7, fill: '#3d3de0', fontFamily: 'Liberation Sans', align: 'right', verticalAlign: 'middle' }, silent: true }
  ],
  series: lineSeries
});
</script>
</body>
</html>
